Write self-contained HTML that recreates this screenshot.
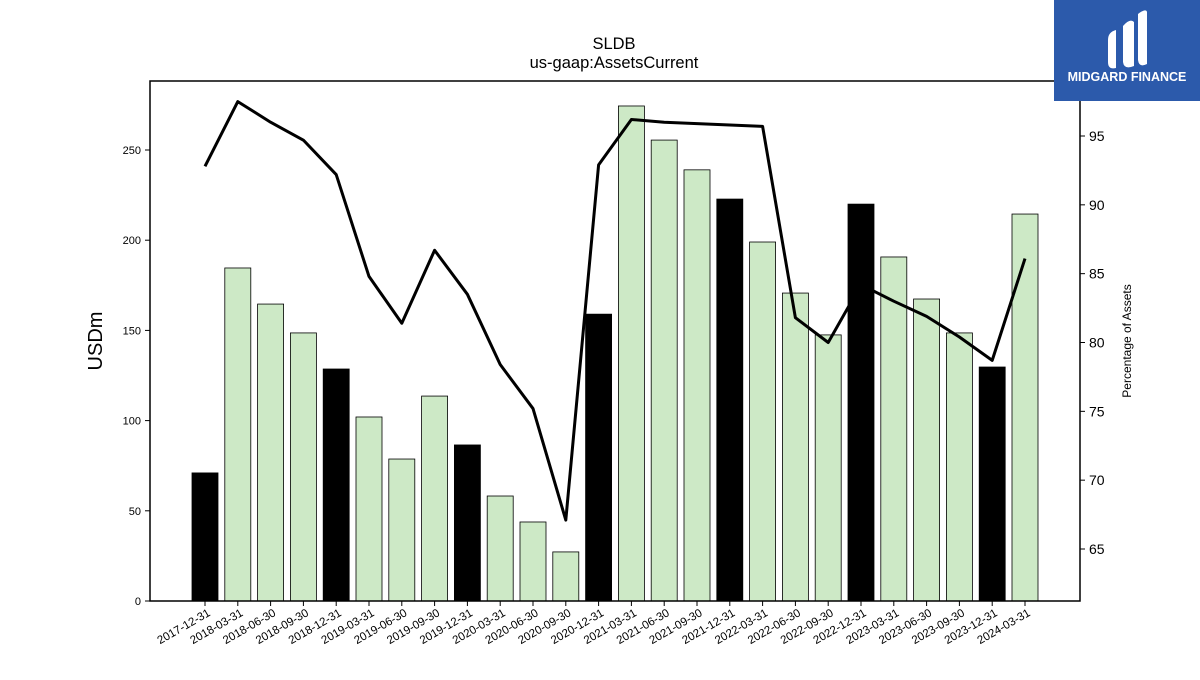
<!DOCTYPE html>
<html><head><meta charset="utf-8"><style>
body{margin:0;background:#fff;width:1200px;height:675px;overflow:hidden;font-family:"Liberation Sans","DejaVu Sans",sans-serif}
</style></head><body>
<svg id="c" width="1200" height="675" xmlns="http://www.w3.org/2000/svg"></svg>
<script>
const categories=["2017-12-31","2018-03-31","2018-06-30","2018-09-30","2018-12-31","2019-03-31","2019-06-30","2019-09-30","2019-12-31","2020-03-31","2020-06-30","2020-09-30","2020-12-31","2021-03-31","2021-06-30","2021-09-30","2021-12-31","2022-03-31","2022-06-30","2022-09-30","2022-12-31","2023-03-31","2023-06-30","2023-09-30","2023-12-31","2024-03-31"];
const assetsCurrent=[71,184.6,164.6,148.6,128.6,102,78.7,113.6,86.5,58.2,43.8,27.2,159,274.4,255.5,239,222.8,199,170.7,147.5,220,190.7,167.4,148.6,129.7,214.5];
const pctAssets=[92.8,97.5,96.0,94.7,92.2,84.8,81.4,86.7,83.5,78.4,75.2,67.1,92.9,96.2,96.0,95.9,95.8,95.7,81.8,80.0,84.2,83.0,81.9,80.4,78.7,86.1];
const leftTicks=[0,50,100,150,200,250];
const rightTicks=[65,70,75,80,85,90,95];
const NS="http://www.w3.org/2000/svg",svg=document.getElementById('c');
function mk(t,a,p){const e=document.createElementNS(NS,t);for(const k in a)e.setAttribute(k,a[k]);(p||svg).appendChild(e);return e;}
const L=150,R=1080,T=81,B=601;
const step=(1025-205)/(categories.length-1);
const x=i=>205+step*i;
const yL=v=>B-v*(451/250);
const yR=v=>136-(v-95)*(413/30);
const bw=26;
categories.forEach((c,i)=>{
 const dec=c.endsWith("12-31");
 const r=mk('rect',{x:x(i)-bw/2,y:yL(assetsCurrent[i]),width:bw,height:B-yL(assetsCurrent[i]),fill:dec?'#000':'#cde9c6',stroke:'#000','stroke-width':0.8});
 
 
 mk('line',{x1:x(i),x2:x(i),y1:B,y2:B+5,stroke:'#000'});
 const t=mk('text',{x:x(i)+6,y:B+14,'font-size':11.5,'text-anchor':'end',transform:`rotate(-30 ${x(i)+6} ${B+14})`});
 t.textContent=c;
 
 
});
const pts=pctAssets.map((v,i)=>x(i)+','+yR(v)).join(' ');
const pl=mk('polyline',{points:pts,fill:'none',stroke:'#000','stroke-width':3,'stroke-linejoin':'round'});


mk('rect',{x:L,y:T,width:R-L,height:B-T,fill:'none',stroke:'#000','stroke-width':1.5});
leftTicks.forEach(v=>{mk('line',{x1:L-5,x2:L,y1:yL(v),y2:yL(v),stroke:'#000'});
 const t=mk('text',{x:L-9,y:yL(v)+4,'font-size':11,'text-anchor':'end'});t.textContent=v;
 });
rightTicks.forEach(v=>{mk('line',{x1:R,x2:R+5,y1:yR(v),y2:yR(v),stroke:'#000'});
 const t=mk('text',{x:R+9,y:yR(v)+5,'font-size':14});t.textContent=v;
 });
</script>
<svg width="1200" height="675" style="position:absolute;left:0;top:0" xmlns="http://www.w3.org/2000/svg">
<text x="614" y="49" font-size="16.5" text-anchor="middle">SLDB</text>
<text x="614" y="68" font-size="16.5" text-anchor="middle">us-gaap:AssetsCurrent</text>
<text x="102" y="341" font-size="20" text-anchor="middle" transform="rotate(-90 102 341)">USDm</text>
<text x="1131" y="341" font-size="12" text-anchor="middle" transform="rotate(-90 1131 341)">Percentage of Assets</text>
<g>
<rect x="1054" y="0" width="146" height="101" fill="#2c5aab"/>
<path d="M1108 40 Q1108 32 1116 30 L1116 68 Q1108 70 1108 62 Z M1123 26 Q1130 18 1134 22 L1134 66 Q1124 70 1123 62 Z M1138 14 Q1146 8 1147 12 L1147 64 Q1139 68 1138 60 Z" fill="#fff"/>
<text x="1127" y="81" font-size="12.5" font-weight="bold" fill="#fff" text-anchor="middle">MIDGARD FINANCE</text>
</g>
</svg>
</body></html>
